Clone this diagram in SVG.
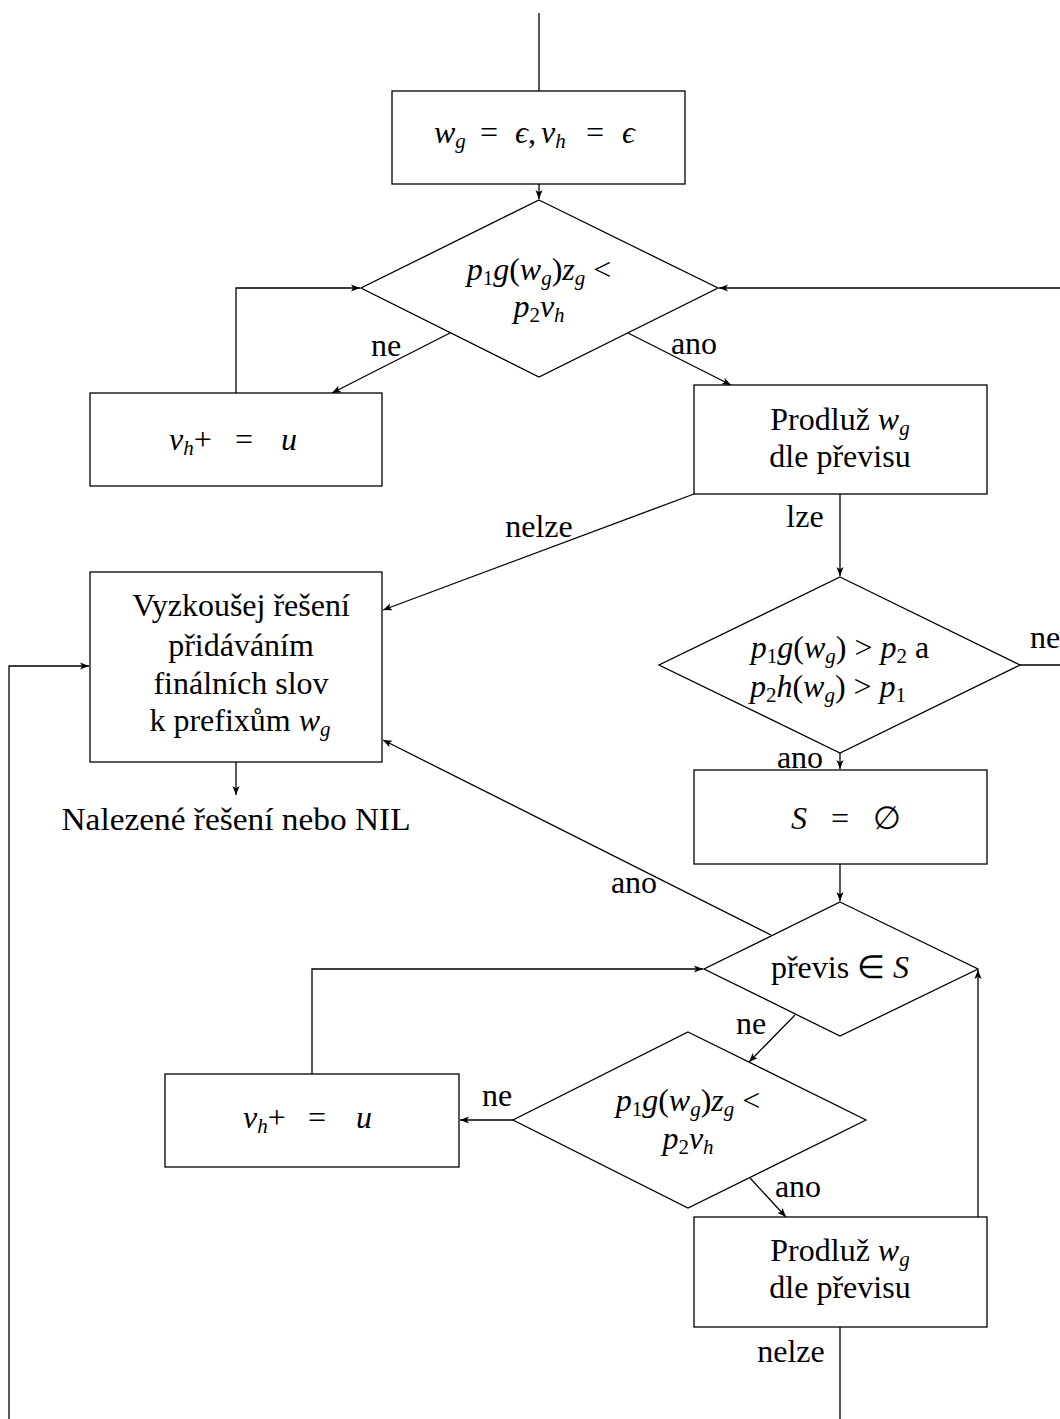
<svg xmlns="http://www.w3.org/2000/svg" width="1060" height="1419" viewBox="0 0 1060 1419">
<defs>
<marker id="a" viewBox="0 0 10 10" refX="10" refY="5" markerWidth="9" markerHeight="9" markerUnits="userSpaceOnUse" orient="auto">
<path d="M0,1 L10,5 L0,9 L2.5,5 z" fill="#000"/>
</marker>
</defs>
<rect width="1060" height="1419" fill="#fff"/>

<g id="connectors" fill="none" stroke="#000" stroke-width="1.3">
<line x1="539" y1="13" x2="539" y2="91"/>
<line x1="539" y1="184" x2="539" y2="199" marker-end="url(#a)"/>
<line x1="1060" y1="288" x2="719" y2="288" marker-end="url(#a)"/>
<line x1="450" y1="333" x2="332" y2="393" marker-end="url(#a)"/>
<polyline points="236,393 236,288 360,288" marker-end="url(#a)"/>
<line x1="628" y1="333" x2="731" y2="385" marker-end="url(#a)"/>
<line x1="694" y1="494" x2="383" y2="610" marker-end="url(#a)"/>
<line x1="840" y1="494" x2="840" y2="576" marker-end="url(#a)"/>
<line x1="1020" y1="665" x2="1060" y2="665"/>
<line x1="840" y1="753" x2="840" y2="769" marker-end="url(#a)"/>
<line x1="236" y1="762" x2="236" y2="795" marker-end="url(#a)"/>
<polyline points="9,1419 9,666 89,666" marker-end="url(#a)"/>
<line x1="840" y1="864" x2="840" y2="901" marker-end="url(#a)"/>
<line x1="771" y1="935" x2="383" y2="740" marker-end="url(#a)"/>
<polyline points="312,1074 312,969 703,969" marker-end="url(#a)"/>
<line x1="795" y1="1015" x2="749" y2="1062" marker-end="url(#a)"/>
<line x1="513" y1="1120" x2="460" y2="1120" marker-end="url(#a)"/>
<line x1="750" y1="1178" x2="786" y2="1217" marker-end="url(#a)"/>
<line x1="978" y1="1217" x2="978" y2="970" marker-end="url(#a)"/>
<line x1="840" y1="1327" x2="840" y2="1419"/>
</g>

<g id="labels">
<text font-family="Liberation Serif" font-size="32" text-anchor="middle" x="386" y="356">ne</text>
<text font-family="Liberation Serif" font-size="32" text-anchor="middle" x="694" y="354">ano</text>
<text font-family="Liberation Serif" font-size="32" text-anchor="middle" x="539" y="537">nelze</text>
<text font-family="Liberation Serif" font-size="32" text-anchor="middle" x="805" y="527">lze</text>
<text font-family="Liberation Serif" font-size="32" x="1030" y="648">ne</text>
<text font-family="Liberation Serif" font-size="32" text-anchor="middle" x="800" y="768">ano</text>
<text font-family="Liberation Serif" font-size="32" text-anchor="middle" x="634" y="893">ano</text>
<text font-family="Liberation Serif" font-size="32" text-anchor="middle" x="751" y="1034">ne</text>
<text font-family="Liberation Serif" font-size="32" text-anchor="middle" x="497" y="1106">ne</text>
<text font-family="Liberation Serif" font-size="32" text-anchor="middle" x="798" y="1197">ano</text>
<text font-family="Liberation Serif" font-size="32" text-anchor="middle" x="791" y="1362">nelze</text>
<text font-family="Liberation Serif" font-size="32" text-anchor="middle" x="236" y="830" textLength="349" lengthAdjust="spacingAndGlyphs">Nalezené řešení nebo NIL</text>
</g>

<g id="init">
<rect x="392" y="91" width="293" height="93" fill="#fff" stroke="#000" stroke-width="1.3"/>
<text font-family="Liberation Serif" font-size="32" y="143"><tspan x="434" font-style="italic">w</tspan><tspan font-size="21" font-style="italic" dy="5">g</tspan><tspan x="480" dy="-5">=</tspan><tspan x="515" font-style="italic">ϵ</tspan>,<tspan x="541" font-style="italic">v</tspan><tspan font-size="21" font-style="italic" dy="5">h</tspan><tspan x="586" dy="-5">=</tspan><tspan x="622" font-style="italic">ϵ</tspan></text>
</g>

<g id="cond1">
<polygon points="539,200 718,288 539,377 361,288" fill="#fff" stroke="#000" stroke-width="1.3"/>
<text font-family="Liberation Serif" font-size="32" text-anchor="middle" x="539" y="280"><tspan font-style="italic">p</tspan><tspan font-size="21" dy="5">1</tspan><tspan font-style="italic" dy="-5">g</tspan>(<tspan font-style="italic">w</tspan><tspan font-size="21" font-style="italic" dy="5">g</tspan><tspan dy="-5">)</tspan><tspan font-style="italic">z</tspan><tspan font-size="21" font-style="italic" dy="5">g</tspan><tspan dy="-5"> &lt;</tspan></text>
<text font-family="Liberation Serif" font-size="32" text-anchor="middle" x="539" y="317"><tspan font-style="italic">p</tspan><tspan font-size="21" dy="5">2</tspan><tspan font-style="italic" dy="-5">v</tspan><tspan font-size="21" font-style="italic" dy="5">h</tspan></text>
</g>

<g id="append1">
<rect x="90" y="393" width="292" height="93" fill="#fff" stroke="#000" stroke-width="1.3"/>
<text font-family="Liberation Serif" font-size="32" y="450"><tspan x="169" font-style="italic">v</tspan><tspan font-size="21" font-style="italic" dy="5">h</tspan><tspan dy="-5">+</tspan><tspan x="235">=</tspan><tspan x="281" font-style="italic">u</tspan></text>
</g>

<g id="extend1">
<rect x="694" y="385" width="293" height="109" fill="#fff" stroke="#000" stroke-width="1.3"/>
<text font-family="Liberation Serif" font-size="32" text-anchor="middle" x="840" y="430">Prodluž <tspan font-style="italic">w</tspan><tspan font-size="21" font-style="italic" dy="5">g</tspan></text>
<text font-family="Liberation Serif" font-size="32" text-anchor="middle" x="840" y="467">dle převisu</text>
</g>

<g id="try">
<rect x="90" y="572" width="292" height="190" fill="#fff" stroke="#000" stroke-width="1.3"/>
<text font-family="Liberation Serif" font-size="32" text-anchor="middle" x="241" y="616">Vyzkoušej řešení</text>
<text font-family="Liberation Serif" font-size="32" text-anchor="middle" x="241" y="656">přidáváním</text>
<text font-family="Liberation Serif" font-size="32" text-anchor="middle" x="241" y="694">finálních slov</text>
<text font-family="Liberation Serif" font-size="32" text-anchor="middle" x="240" y="731">k prefixům <tspan font-style="italic">w</tspan><tspan font-size="21" font-style="italic" dy="5">g</tspan></text>
</g>

<g id="cond2">
<polygon points="840,577 1020,665 840,753 659,665" fill="#fff" stroke="#000" stroke-width="1.3"/>
<text font-family="Liberation Serif" font-size="32" text-anchor="middle" x="840" y="658"><tspan font-style="italic">p</tspan><tspan font-size="21" dy="5">1</tspan><tspan font-style="italic" dy="-5">g</tspan>(<tspan font-style="italic">w</tspan><tspan font-size="21" font-style="italic" dy="5">g</tspan><tspan dy="-5">) &gt; </tspan><tspan font-style="italic">p</tspan><tspan font-size="21" dy="5">2</tspan><tspan dy="-5"> a</tspan></text>
<text font-family="Liberation Serif" font-size="32" text-anchor="middle" x="828" y="697"><tspan font-style="italic">p</tspan><tspan font-size="21" dy="5">2</tspan><tspan font-style="italic" dy="-5">h</tspan>(<tspan font-style="italic">w</tspan><tspan font-size="21" font-style="italic" dy="5">g</tspan><tspan dy="-5">) &gt; </tspan><tspan font-style="italic">p</tspan><tspan font-size="21" dy="5">1</tspan></text>
</g>

<g id="empty">
<rect x="694" y="770" width="293" height="94" fill="#fff" stroke="#000" stroke-width="1.3"/>
<text font-family="Liberation Serif" font-size="32" y="829"><tspan x="791" font-style="italic">S</tspan><tspan x="831">=</tspan><tspan x="873">∅</tspan></text>
</g>

<g id="cond3">
<polygon points="840,902 978,969 840,1036 704,969" fill="#fff" stroke="#000" stroke-width="1.3"/>
<text font-family="Liberation Serif" font-size="32" text-anchor="middle" x="840" y="978">převis ∈ <tspan font-style="italic">S</tspan></text>
</g>

<g id="cond4">
<polygon points="688,1032 866,1120 688,1208 513,1120" fill="#fff" stroke="#000" stroke-width="1.3"/>
<text font-family="Liberation Serif" font-size="32" text-anchor="middle" x="688" y="1111"><tspan font-style="italic">p</tspan><tspan font-size="21" dy="5">1</tspan><tspan font-style="italic" dy="-5">g</tspan>(<tspan font-style="italic">w</tspan><tspan font-size="21" font-style="italic" dy="5">g</tspan><tspan dy="-5">)</tspan><tspan font-style="italic">z</tspan><tspan font-size="21" font-style="italic" dy="5">g</tspan><tspan dy="-5"> &lt;</tspan></text>
<text font-family="Liberation Serif" font-size="32" text-anchor="middle" x="688" y="1149"><tspan font-style="italic">p</tspan><tspan font-size="21" dy="5">2</tspan><tspan font-style="italic" dy="-5">v</tspan><tspan font-size="21" font-style="italic" dy="5">h</tspan></text>
</g>

<g id="append2">
<rect x="165" y="1074" width="294" height="93" fill="#fff" stroke="#000" stroke-width="1.3"/>
<text font-family="Liberation Serif" font-size="32" y="1128"><tspan x="243" font-style="italic">v</tspan><tspan font-size="21" font-style="italic" dy="5">h</tspan><tspan dy="-5">+</tspan><tspan x="308">=</tspan><tspan x="356" font-style="italic">u</tspan></text>
</g>

<g id="extend2">
<rect x="694" y="1217" width="293" height="110" fill="#fff" stroke="#000" stroke-width="1.3"/>
<text font-family="Liberation Serif" font-size="32" text-anchor="middle" x="840" y="1261">Prodluž <tspan font-style="italic">w</tspan><tspan font-size="21" font-style="italic" dy="5">g</tspan></text>
<text font-family="Liberation Serif" font-size="32" text-anchor="middle" x="840" y="1298">dle převisu</text>
</g>
</svg>
